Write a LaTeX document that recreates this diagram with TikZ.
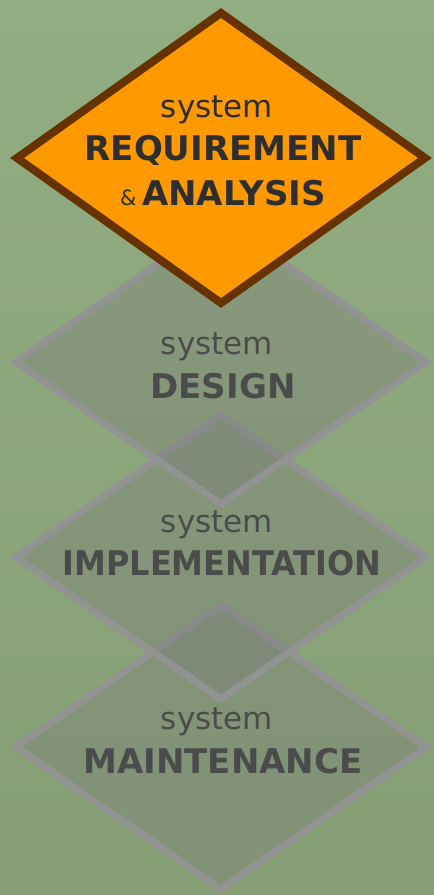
\documentclass[tikz,border=0pt]{standalone}
\usepackage{fontspec}
\setmainfont{DejaVu Sans}
\usetikzlibrary{positioning}
\definecolor{bgtop}{HTML}{93AD83}
\definecolor{bgbot}{HTML}{869F74}
\definecolor{orangefill}{HTML}{FF9900}
\definecolor{brownline}{HTML}{663300}
\definecolor{grayline}{HTML}{939393}
\definecolor{grayfill}{HTML}{787878}
\definecolor{darktext}{HTML}{2E2E2E}
\definecolor{graytext}{HTML}{4B4B4B}
\tikzset{
  graydiamond/.style={draw=grayline, line width=7pt, fill=grayfill, fill opacity=0.35, line join=miter},
  orangediamond/.style={draw=brownline, line width=8pt, fill=orangefill, line join=miter},
  smalltxt/.style={inner sep=0pt, anchor=base, font=\fontsize{31}{31}\selectfont},
  bigtxt/.style={inner sep=0pt, anchor=base, font=\fontsize{34}{34}\selectfont\bfseries},
}
\begin{document}
\begin{tikzpicture}[x=1pt,y=-1pt]
\useasboundingbox (0,0) rectangle (434,895);
\shade[top color=bgtop, bottom color=bgbot] (0,0) rectangle (434,895);
% diamond centres
\coordinate (c2) at (221,362);
\coordinate (c3) at (221,557);
\coordinate (c4) at (221,747);
\coordinate (c1) at (221,158);
% gray diamonds
\foreach \c in {c4,c3,c2}{
  \draw[graydiamond] ([yshift=-142pt]\c) -- ([xshift=205pt]\c) -- ([yshift=142pt]\c) -- ([xshift=-205pt]\c) -- cycle;
}
% orange diamond
\draw[orangediamond] ([yshift=145pt]c1) -- ([xshift=204pt]c1) -- ([yshift=-145pt]c1) -- ([xshift=-204pt]c1) -- cycle;
% texts
\node[smalltxt, text=darktext] (s1) at (217,117) {system};
\node[bigtxt, text=darktext] (r1) at (223,160) {REQUIREMENT};
\node[bigtxt, text=darktext] (a1) at (223,205) {{\fontsize{21}{21}\mdseries\selectfont\&}\,ANALYSIS};
\node[smalltxt, text=graytext] (s2) at (217,354) {system};
\node[bigtxt, text=graytext] (d2) at (223,398) {DESIGN};
\node[smalltxt, text=graytext] (s3) at (217,532) {system};
\node[bigtxt, text=graytext] (i3) at (222,575) {\scalebox{0.94}[1]{IMPLEMENTATION}};
\node[smalltxt, text=graytext] (s4) at (217,729) {system};
\node[bigtxt, text=graytext] (m4) at (223,773) {MAINTENANCE};
\end{tikzpicture}
\end{document}
